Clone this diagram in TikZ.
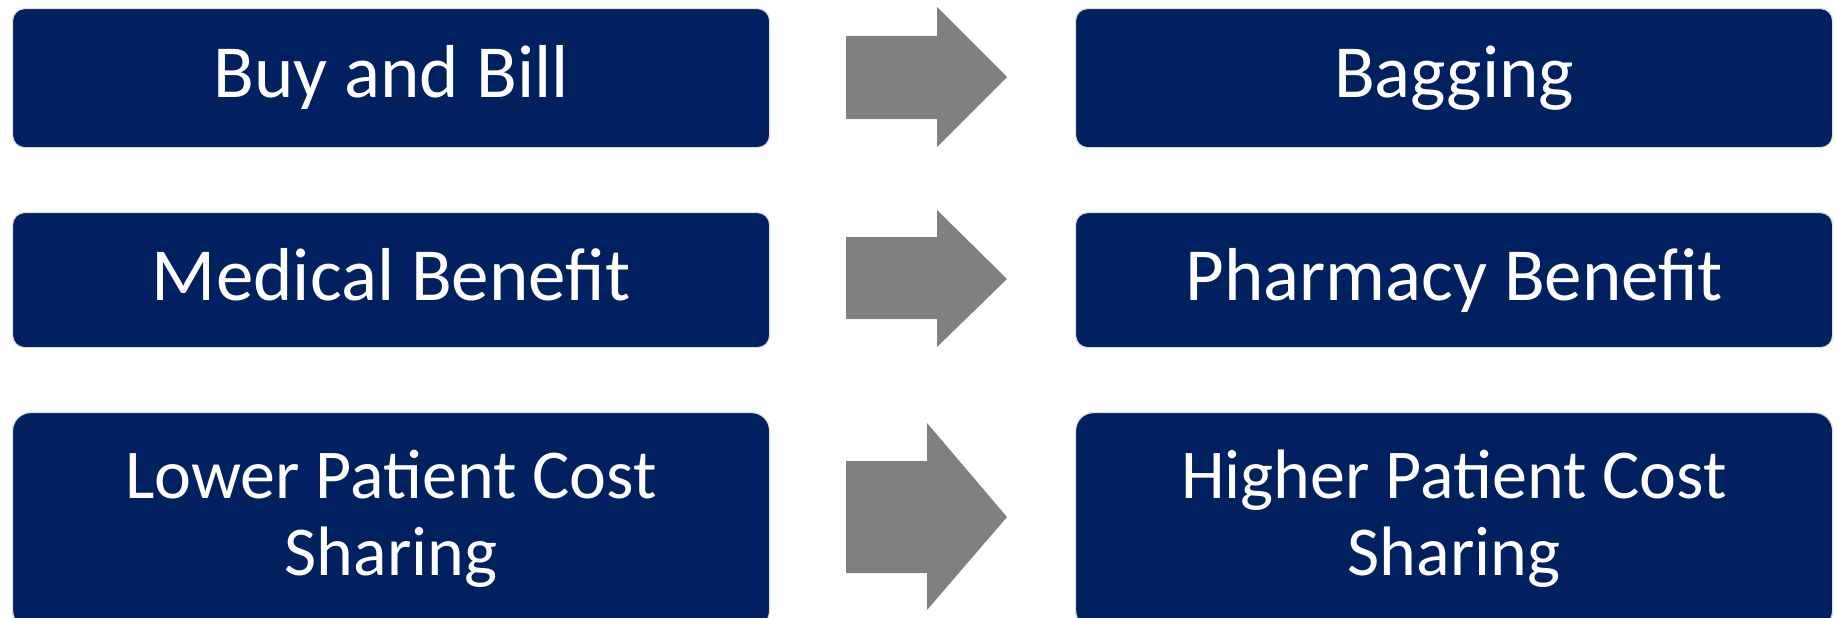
\documentclass[tikz,border=0pt]{standalone}
\usepackage{fontspec}
\setmainfont{Carlito}
\usetikzlibrary{calc}
\definecolor{navy}{HTML}{002060}
\definecolor{arrowgray}{HTML}{808080}
\definecolor{rim}{HTML}{DDDDDD}

% block arrow: left x, neck x, tip x, body top/bottom, head top/bottom, tip y
\newcommand{\blockarrow}[8]{%
  \fill[arrowgray] (#1,#4) -- (#2,#4) -- (#2,#6) -- (#3,#8) -- (#2,#7) -- (#2,#5) -- (#1,#5) -- cycle;}

\begin{document}
\begin{tikzpicture}[x=1pt,y=-1pt,
  box/.style={draw=rim, line width=1.2pt, fill=navy, rounded corners=12pt,
    minimum width=757pt, inner sep=0pt, anchor=north west},
  tallbox/.style={box, rounded corners=18pt},
  lbl/.style={text=white, font=\fontsize{75}{77}\selectfont, anchor=base, inner sep=0pt},
  lbltwo/.style={text=white, font=\fontsize{70}{77}\selectfont, anchor=base, inner sep=0pt, align=center}]
  \useasboundingbox (0,0) rectangle (1837,618);
  \clip (0,0) rectangle (1837,618);

  % boxes
  \node[box, minimum height=139pt] (buy) at (12,8) {};
  \node[box, minimum height=139pt] (bag) at (1075,8) {};
  \node[box, minimum height=135pt] (med) at (12,212) {};
  \node[box, minimum height=135pt] (pha) at (1075,212) {};
  \node[tallbox, minimum height=216pt] (low) at (12,412) {};
  \node[tallbox, minimum height=216pt] (hig) at (1075,412) {};

  % labels (two-line labels are placed by the baseline of their last line)
  \node[lbl] (buyT) at ($(buy.north)+(0,89)$) {Buy and Bill};
  \node[lbl] (bagT) at ($(bag.north)+(0,89)$) {Bagging};
  \node[lbl] (medT) at ($(med.north)+(0,88)$) {Medical Benefit};
  \node[lbl] (phaT) at ($(pha.north)+(0,88)$) {Pharmacy Benefit};
  \node[lbltwo] (lowT) at ($(low.north)+(0,163)$) {Lower Patient Cost\\Sharing};
  \node[lbltwo] (higT) at ($(hig.north)+(0,163)$) {Higher Patient Cost\\Sharing};

  % transition arrows
  \blockarrow{846}{937}{1007}{36}{119}{7}{147}{77}
  \blockarrow{846}{937}{1007}{237}{319}{210}{347}{279}
  \blockarrow{846}{927}{1007}{461}{573}{423}{610}{517}
\end{tikzpicture}
\end{document}
